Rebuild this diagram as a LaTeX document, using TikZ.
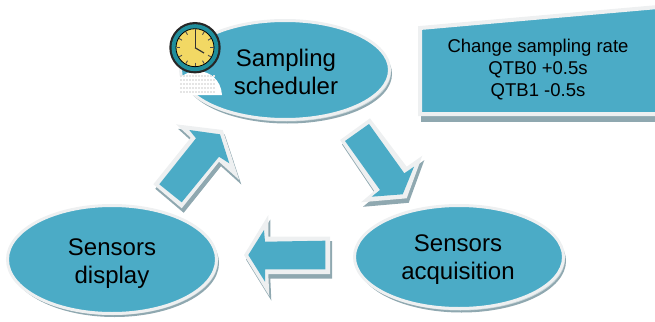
\documentclass[tikz,border=0pt]{standalone}
\usepackage{fontspec}
\setmainfont{Liberation Sans}
\usepackage{tikz}
\usetikzlibrary{shapes.geometric,positioning}
\definecolor{tealfill}{HTML}{4BABC6}
\definecolor{rimgray}{HTML}{EEF0F1}
\definecolor{shadegray}{HTML}{8FA8B0}
\definecolor{shadepale}{HTML}{C9D6DA}
\definecolor{clockface}{HTML}{F2D864}
\definecolor{clockring}{HTML}{1F8E9C}
\tikzset{
  stage/.style={ellipse,fill=tealfill,draw=rimgray,line width=3pt,minimum width=209pt,inner sep=0pt},
  backing/.style={ellipse,fill=shadegray,minimum width=209pt,inner sep=0pt},
  backingpale/.style={backing,fill=shadepale},
  stagetext/.style={align=center,font=\fontsize{24}{28}\selectfont},
  pointerback/.style={fill=shadegray,shift={(2pt,-4.5pt)}},
  pointerrim/.style={fill=rimgray},
  pointer/.style={fill=tealfill}
}
\begin{document}
\begin{tikzpicture}[x=1pt,y=-1pt]
\useasboundingbox (0,0) rectangle (655,321);
\node[backing,minimum height=99pt] (schedback) at (287.5,74) {};
\node[backing,minimum height=108pt] (displayback) at (114.5,263) {};
\node[backing,minimum height=103pt] (acquback) at (461.5,261) {};
\node[backingpale,minimum height=99pt] (schedpale) at (286.5,72) {};
\node[backingpale,minimum height=108pt] (displaypale) at (113.5,261) {};
\node[backingpale,minimum height=103pt] (acqupale) at (460.5,259) {};
\node[stage,minimum height=99pt] (sched) at (285,70) {};
\node[stage,minimum height=108pt] (display) at (112,259.5) {};
\node[stage,minimum height=103pt] (acqu) at (459,257) {};
\node[stagetext] (schedtext) at (286,71.5) {Sampling\\scheduler};
\node[stagetext] (displaytext) at (112,264) {Sensors\\display};
\node[stagetext] (acqutext) at (458,260) {Sensors\\acquisition};
% note box
\fill[shadegray] (421,116) rectangle (655,122);
\draw[fill=tealfill,draw=rimgray,line width=4pt] (420,28) -- (658,7) -- (658,114) -- (420,114) -- cycle;
\node[font=\fontsize{18.5}{22}\selectfont,align=center] (note) at (538,70) {Change sampling rate\\QTB0 +0.5s\\QTB1 -0.5s};
% arrows
\fill[pointerback] (153.3,184.3) -- (190.7,137.7) -- (176,124.3) -- (222.7,130) -- (239.3,180) -- (219,161.7) -- (181.7,208.3) -- cycle;
\fill[pointerrim] (153.3,184.3) -- (190.7,137.7) -- (176,124.3) -- (222.7,130) -- (239.3,180) -- (219,161.7) -- (181.7,208.3) -- cycle;
\fill[pointer] (159.3,184.3) -- (196,138.3) -- (189.3,130) -- (220,134.3) -- (229.3,163.3) -- (219,156.7) -- (181.7,202.3) -- cycle;
\fill[pointerback] (340,140) -- (370,118.3) -- (406.7,166.7) -- (422.3,155.7) -- (406.7,198.3) -- (361,202.3) -- (374.3,191) -- cycle;
\fill[pointerrim] (340,140) -- (370,118.3) -- (406.7,166.7) -- (422.3,155.7) -- (406.7,198.3) -- (361,202.3) -- (374.3,191) -- cycle;
\fill[pointer] (345,141) -- (369,124) -- (404.3,173.3) -- (414,166.7) -- (402.7,194.3) -- (371.7,196.7) -- (380,190) -- cycle;
\fill[pointerback] (244,255) -- (268.3,215) -- (268.3,236.7) -- (330,236.7) -- (330,274) -- (268.3,274) -- (269.3,296) -- cycle;
\fill[pointerrim] (244,255) -- (268.3,215) -- (268.3,236.7) -- (330,236.7) -- (330,274) -- (268.3,274) -- (269.3,296) -- cycle;
\fill[pointer] (248.3,255) -- (264,230) -- (265,241.7) -- (325.3,240.7) -- (325.3,269.3) -- (265,269.3) -- (265,281.7) -- cycle;
% clock and its reflection
\fill[white] (172,95) .. controls (174,80) and (185,71) .. (197,71) .. controls (210,71) and (221,80) .. (222,95) -- cycle;
\foreach \rowy in {76,80,84,88,92} \draw[black!10,line width=1.2pt,dash pattern=on 2pt off 1pt] (180,\rowy) -- (215,\rowy);
\coordinate (clockc) at (195,47.7);
\fill[black!85] (clockc) circle (25.7pt);
\fill[clockring] (clockc) circle (23.5pt);
\draw[black,fill=clockface,line width=.8pt] (clockc) circle (19pt);
\foreach \tickang in {0,30,...,330} \draw[black!70,line width=.9pt] ([shift={(\tickang:15)}]clockc) -- ([shift={(\tickang:18.5)}]clockc);
\draw[black!80,line width=1pt] (clockc) -- (195,30);
\draw[black!80,line width=1.2pt] (clockc) -- (204,53);
\end{tikzpicture}
\end{document}
